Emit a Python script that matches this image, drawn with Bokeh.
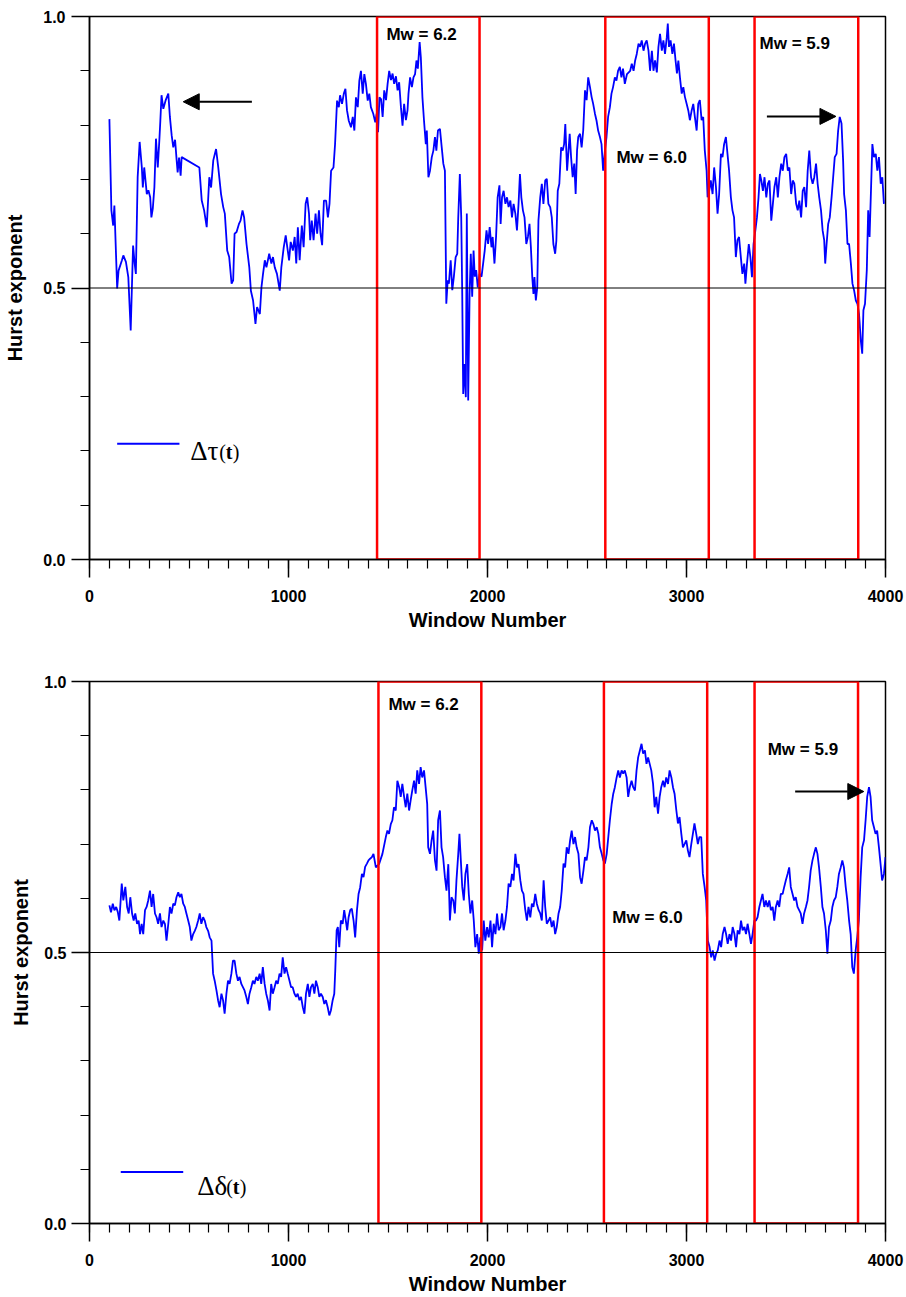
from bokeh.plotting import figure
from bokeh.layouts import column
from bokeh.models import (Range1d, FixedTicker, Span, Label, Arrow, NormalHead)
from bokeh.embed import file_html
from bokeh.resources import INLINE

# ---------------- data: Hurst exponent of Δτ(t) (top panel) ----------------
tau_window = [
    100, 110, 119, 125, 139, 146, 163, 170, 183, 195, 207, 219, 227, 233, 242, 252, 263, 268, 275, 288,
    296, 305, 311, 318, 326, 334, 343, 351, 356, 362, 371, 382, 396, 404, 413, 421, 430, 438, 443, 450,
    458, 463, 552, 564, 576, 589, 602, 611, 622, 636, 647, 661, 672, 680, 692, 702, 714, 722, 729, 739,
    751, 759, 769, 777, 789, 803, 811, 822, 834, 842, 856, 864, 872, 881, 889, 903, 914, 922, 931, 942,
    956, 964, 976, 986, 994, 1003, 1011, 1022, 1031, 1039, 1047, 1056, 1067, 1076, 1086, 1094, 1103, 1109, 1117, 1126,
    1136, 1144, 1153, 1161, 1169, 1178, 1189, 1198, 1206, 1214, 1226, 1234, 1244, 1253, 1259, 1269, 1278, 1286, 1294, 1303,
    1314, 1323, 1331, 1339, 1348, 1356, 1364, 1373, 1381, 1389, 1398, 1406, 1414, 1426, 1436, 1443, 1450,
    1457, 1465, 1473, 1481, 1490, 1498, 1506, 1515, 1523, 1531, 1540, 1548, 1556, 1565, 1573, 1581, 1590, 1598, 1603,
    1611, 1620, 1628, 1636, 1643, 1650, 1659, 1665, 1673, 1681, 1690, 1695, 1703, 1711, 1720, 1728, 1736, 1743, 1751,
    1761, 1770, 1778, 1786, 1793, 1800, 1806, 1815, 1823, 1831, 1840, 1848, 1853, 1861, 1868, 1873, 1878, 1885, 1891,
    1896, 1903, 1910, 1916, 1923, 1930, 1936, 1943, 1951, 1960, 1970, 1978, 1986, 1995, 2003, 2011, 2020, 2026, 2035,
    2043, 2051, 2060, 2066, 2073, 2081, 2090, 2098, 2106, 2115, 2123, 2131, 2140, 2148, 2156, 2163, 2170, 2178, 2186,
    2195, 2203, 2211, 2218, 2225, 2231, 2236, 2243, 2250, 2256, 2265, 2273, 2281, 2290, 2298, 2306, 2315, 2323, 2331,
    2340, 2346, 2353, 2361, 2370, 2378, 2385, 2391, 2400, 2406, 2413, 2420, 2428, 2436, 2443, 2450, 2456, 2465, 2473,
    2481, 2490, 2498, 2506, 2515, 2523, 2531, 2540, 2548, 2556, 2565, 2573, 2581, 2590, 2598, 2606, 2615, 2623, 2631,
    2640, 2648, 2656, 2665, 2673, 2681, 2690, 2701,
    2717, 2725, 2734, 2742, 2750, 2759, 2767, 2775, 2784, 2792, 2800, 2809, 2817, 2826, 2834, 2842, 2851, 2859, 2867,
    2876, 2884, 2892, 2901, 2906, 2912, 2920, 2929, 2937, 2945, 2952, 2959, 2967, 2976, 2984, 2992, 3001, 3009, 3017,
    3026, 3034, 3042, 3051, 3059, 3067, 3076, 3084, 3092, 3101, 3106, 3114, 3122, 3131, 3139, 3148, 3156, 3164, 3173,
    3181, 3189, 3198, 3206, 3214, 3223, 3231, 3239, 3248, 3256, 3264, 3273, 3281, 3290, 3296, 3304, 3313, 3321, 3329,
    3337, 3346, 3354, 3362, 3369, 3376, 3384, 3392, 3401, 3409, 3417, 3426, 3434, 3442, 3451, 3459, 3467, 3476, 3484,
    3492, 3501, 3509, 3517, 3526, 3534, 3542, 3551, 3559, 3567, 3576, 3584, 3592, 3601, 3609, 3617, 3626, 3634, 3642,
    3651, 3659, 3667, 3676, 3684, 3692, 3697, 3704, 3712, 3720, 3729, 3737, 3745, 3754, 3762, 3770, 3779, 3787, 3792,
    3801, 3809, 3817, 3826, 3834, 3842, 3851, 3859, 3867, 3876, 3883, 3889, 3897, 3906, 3913, 3920, 3926, 3934, 3942,
    3951, 3959, 3967, 3976, 3984, 3992,
]
tau_hurst = [
    0.811, 0.643, 0.615, 0.652, 0.499, 0.532, 0.551, 0.560, 0.548, 0.520, 0.422, 0.578, 0.545, 0.526, 0.704, 0.769, 0.722, 0.685, 0.722, 0.673,
    0.680, 0.667, 0.630, 0.646, 0.685, 0.775, 0.722, 0.772, 0.808, 0.855, 0.830, 0.845, 0.858, 0.815, 0.781, 0.759, 0.773, 0.735, 0.713, 0.740,
    0.707, 0.741, 0.722, 0.661, 0.643, 0.612, 0.704, 0.685, 0.735, 0.756, 0.722, 0.673, 0.649, 0.637, 0.569, 0.557, 0.508, 0.514, 0.600, 0.603,
    0.618, 0.624, 0.643, 0.630, 0.581, 0.538, 0.495, 0.477, 0.434, 0.465, 0.452, 0.501, 0.526, 0.551, 0.538, 0.563, 0.545, 0.557, 0.538, 0.526,
    0.495, 0.538, 0.575, 0.597, 0.575, 0.551, 0.585, 0.569, 0.594, 0.545, 0.612, 0.551, 0.615, 0.575, 0.655, 0.667, 0.637, 0.588, 0.624, 0.588,
    0.637, 0.600, 0.643, 0.600, 0.579, 0.661, 0.661, 0.630, 0.655, 0.716, 0.722, 0.765, 0.845, 0.833, 0.855, 0.839, 0.858, 0.867, 0.827, 0.808,
    0.796, 0.815, 0.790, 0.851, 0.833, 0.882, 0.900, 0.858, 0.894, 0.876, 0.845, 0.858, 0.833, 0.821, 0.805, 0.821, 0.787,
    0.851, 0.848, 0.815, 0.864, 0.846, 0.876, 0.900, 0.883, 0.895, 0.876, 0.890, 0.864, 0.879, 0.833, 0.799, 0.839, 0.809, 0.827, 0.858,
    0.888, 0.870, 0.888, 0.894, 0.919, 0.904, 0.953, 0.925, 0.851, 0.808, 0.765, 0.790, 0.704, 0.716, 0.741, 0.753, 0.778, 0.753, 0.790,
    0.793, 0.759, 0.729, 0.716, 0.471, 0.514, 0.508, 0.551, 0.496, 0.521, 0.557, 0.563, 0.630, 0.710, 0.630, 0.489, 0.305, 0.360, 0.299,
    0.637, 0.293, 0.489, 0.563, 0.484, 0.569, 0.521, 0.533, 0.501, 0.526, 0.521, 0.545, 0.569, 0.606, 0.581, 0.612, 0.575, 0.594, 0.545,
    0.594, 0.667, 0.689, 0.618, 0.667, 0.679, 0.655, 0.667, 0.649, 0.661, 0.630, 0.655, 0.637, 0.606, 0.655, 0.710, 0.667, 0.643, 0.630,
    0.581, 0.594, 0.618, 0.575, 0.520, 0.489, 0.520, 0.477, 0.501, 0.624, 0.667, 0.692, 0.655, 0.698, 0.701, 0.655, 0.649, 0.630, 0.581,
    0.563, 0.587, 0.679, 0.692, 0.759, 0.753, 0.765, 0.802, 0.716, 0.747, 0.784, 0.741, 0.704, 0.729, 0.673, 0.753, 0.778, 0.784, 0.759,
    0.790, 0.864, 0.846, 0.888, 0.870, 0.852, 0.839, 0.821, 0.808, 0.790, 0.778, 0.765, 0.716, 0.753, 0.778, 0.815, 0.833, 0.858, 0.870,
    0.888, 0.882, 0.900, 0.907, 0.888, 0.904, 0.876, 0.894,
    0.900, 0.913, 0.900, 0.919, 0.931, 0.950, 0.944, 0.956, 0.937, 0.950, 0.956, 0.937, 0.900, 0.937, 0.900, 0.919, 0.897, 0.944, 0.968,
    0.937, 0.956, 0.931, 0.962, 0.987, 0.944, 0.956, 0.931, 0.950, 0.919, 0.895, 0.919, 0.888, 0.858, 0.870, 0.852, 0.839, 0.827, 0.809,
    0.827, 0.839, 0.815, 0.790, 0.839, 0.846, 0.809, 0.815, 0.753, 0.716, 0.667, 0.679, 0.698, 0.673, 0.722, 0.686, 0.637, 0.673, 0.747,
    0.741, 0.765, 0.778, 0.747, 0.716, 0.667, 0.643, 0.630, 0.557, 0.588, 0.594, 0.557, 0.526, 0.545, 0.508, 0.545, 0.581, 0.557, 0.520,
    0.581, 0.606, 0.630, 0.667, 0.710, 0.698, 0.679, 0.704, 0.667, 0.692, 0.698, 0.624, 0.655, 0.686, 0.704, 0.667, 0.704, 0.729, 0.716,
    0.741, 0.747, 0.716, 0.722, 0.673, 0.698, 0.692, 0.655, 0.643, 0.661, 0.630, 0.679, 0.686, 0.649, 0.716, 0.753, 0.704, 0.692, 0.704,
    0.729, 0.692, 0.667, 0.643, 0.606, 0.588, 0.545, 0.581, 0.618, 0.630, 0.667, 0.704, 0.741, 0.747, 0.790, 0.815, 0.803, 0.735, 0.673,
    0.643, 0.581, 0.581, 0.545, 0.508, 0.496, 0.477, 0.471, 0.452, 0.403, 0.379, 0.459, 0.471, 0.533, 0.643, 0.594, 0.667, 0.765, 0.741,
    0.747, 0.716, 0.741, 0.692, 0.704, 0.655,
]

# ---------------- data: Hurst exponent of Δδ(t) (bottom panel) ----------------
delta_window = [
    100, 108, 117, 125, 134, 142, 150, 162, 170, 180, 189, 197, 205, 214, 222, 230, 239, 247, 254, 262,
    270, 279, 287, 295, 304, 312, 320, 329, 337, 345, 354, 362, 371, 379, 387, 396, 404, 412, 421, 429,
    437, 446, 454, 462, 471, 479, 487, 496, 504, 512, 521, 529, 537, 546, 554, 562, 571, 579, 587, 596,
    604, 613, 621, 629, 638, 646, 654, 663, 671, 679, 688, 696, 704, 713, 721, 729, 738, 746, 754, 763,
    771, 779, 788, 796, 804, 813, 821, 829, 838, 846, 855, 863, 871, 880, 888, 896, 905, 913, 921, 930,
    938, 946, 955, 963, 971, 980, 988, 996, 1005, 1013, 1021, 1030, 1038, 1046, 1055, 1063, 1072, 1080, 1088, 1097,
    1105, 1113, 1122, 1130, 1138, 1147, 1155, 1163, 1172, 1180, 1188, 1197, 1205, 1213, 1222, 1230, 1235, 1242, 1248, 1255,
    1263, 1272, 1280, 1288, 1295, 1302, 1310, 1318, 1327, 1335, 1344, 1352, 1360, 1369, 1377, 1385, 1394, 1402, 1410, 1419,
    1427, 1439, 1455, 1472, 1489, 1497, 1505, 1514, 1522, 1530, 1539, 1547, 1556, 1564, 1572, 1581, 1589, 1597, 1606,
    1614, 1622, 1631, 1639, 1647, 1656, 1664, 1672, 1681, 1689, 1697, 1702, 1711, 1719, 1727, 1736, 1744, 1752, 1761,
    1769, 1777, 1786, 1794, 1803, 1811, 1819, 1828, 1836, 1844, 1853, 1859, 1866, 1873, 1881, 1889, 1898, 1906, 1914,
    1923, 1931, 1939, 1948, 1956, 1964, 1973, 1981, 1989, 1998, 2006, 2015, 2023, 2031, 2040, 2048, 2056, 2065, 2073,
    2081, 2090, 2098, 2106, 2115, 2123, 2131, 2140, 2148, 2156, 2165, 2173, 2181, 2190, 2198, 2206, 2215, 2223, 2231,
    2240, 2248, 2257, 2265, 2273, 2282, 2290, 2298, 2307, 2315, 2323, 2332, 2340, 2348, 2357, 2365, 2373, 2382, 2390,
    2398, 2407, 2415, 2423, 2432, 2440, 2448, 2457, 2465, 2473, 2482, 2490, 2498, 2507, 2515, 2524, 2532, 2540, 2549,
    2557, 2565, 2574, 2582, 2590, 2599, 2607, 2615, 2624, 2632, 2640, 2649, 2657, 2665, 2674, 2682, 2690, 2699, 2707,
    2715, 2724, 2732, 2741, 2749, 2757, 2766, 2774, 2782, 2791, 2799, 2807,
    2815, 2823, 2832, 2840, 2848, 2857, 2865, 2873, 2882, 2890, 2898, 2907, 2915, 2924, 2932, 2940, 2949, 2957, 2965,
    2974, 2982, 2990, 2999, 3007, 3015, 3024, 3032, 3040, 3049, 3057, 3065, 3074, 3082, 3091, 3099, 3107, 3116, 3124,
    3132, 3141, 3149, 3157, 3166, 3174, 3182, 3191, 3199, 3207, 3216, 3224, 3232, 3241, 3249, 3257, 3266, 3274, 3282,
    3291, 3299, 3307, 3316, 3324, 3332, 3341, 3349, 3357, 3366, 3374, 3382, 3391, 3399, 3408, 3416, 3424, 3433, 3441,
    3449, 3458, 3466, 3474, 3483, 3491, 3499, 3508, 3516, 3524, 3533, 3541, 3549, 3558, 3566, 3574, 3583, 3591, 3600,
    3608, 3616, 3624, 3633, 3641, 3650, 3658, 3666, 3675, 3683, 3691, 3700, 3708, 3716, 3725, 3733, 3741, 3750, 3758,
    3766, 3775, 3783, 3791, 3800, 3808, 3817, 3825, 3833, 3841, 3850, 3858, 3866, 3875, 3883, 3892, 3900, 3908, 3917,
    3925, 3933, 3942, 3950, 3958, 3967, 3975, 3983, 3992, 4000,
]
delta_hurst = [
    0.587, 0.574, 0.590, 0.578, 0.584, 0.575, 0.559, 0.627, 0.596, 0.621, 0.584, 0.572, 0.602, 0.572, 0.559, 0.572, 0.553, 0.559, 0.534, 0.553,
    0.534, 0.578, 0.584, 0.596, 0.614, 0.584, 0.608, 0.572, 0.565, 0.553, 0.572, 0.547, 0.559, 0.553, 0.522, 0.553, 0.584, 0.572, 0.590, 0.587,
    0.602, 0.611, 0.602, 0.608, 0.590, 0.584, 0.572, 0.559, 0.547, 0.522, 0.534, 0.540, 0.547, 0.559, 0.572, 0.553, 0.565, 0.559, 0.547, 0.540,
    0.528, 0.522, 0.461, 0.448, 0.430, 0.412, 0.399, 0.424, 0.412, 0.387, 0.424, 0.448, 0.442, 0.461, 0.485, 0.485, 0.461, 0.448, 0.455, 0.442,
    0.436, 0.430, 0.418, 0.405, 0.424, 0.436, 0.448, 0.442, 0.455, 0.448, 0.461, 0.442, 0.473, 0.442, 0.424, 0.412, 0.393, 0.442, 0.424, 0.436,
    0.448, 0.442, 0.461, 0.455, 0.491, 0.461, 0.473, 0.461, 0.448, 0.436, 0.436, 0.424, 0.418, 0.424, 0.412, 0.418, 0.399, 0.387, 0.424, 0.442,
    0.418, 0.436, 0.442, 0.424, 0.448, 0.436, 0.418, 0.424, 0.418, 0.405, 0.412, 0.399, 0.384, 0.393, 0.412, 0.424, 0.467, 0.541, 0.547, 0.510,
    0.559, 0.553, 0.578, 0.559, 0.541, 0.565, 0.578, 0.581, 0.559, 0.528, 0.578, 0.608, 0.620, 0.645, 0.639, 0.658, 0.664, 0.670, 0.673, 0.676,
    0.682, 0.657, 0.663, 0.682, 0.713, 0.725, 0.719, 0.737, 0.744, 0.768, 0.762, 0.817, 0.805, 0.787, 0.811, 0.787, 0.768, 0.793, 0.762,
    0.781, 0.799, 0.817, 0.793, 0.836, 0.811, 0.842, 0.823, 0.836, 0.805, 0.774, 0.694, 0.682, 0.707, 0.725, 0.670, 0.651, 0.744, 0.762,
    0.694, 0.676, 0.639, 0.614, 0.663, 0.559, 0.602, 0.596, 0.572, 0.633, 0.682, 0.719, 0.670, 0.621, 0.596, 0.645, 0.663, 0.608, 0.572,
    0.596, 0.559, 0.510, 0.534, 0.498, 0.528, 0.504, 0.559, 0.522, 0.547, 0.528, 0.559, 0.510, 0.553, 0.534, 0.572, 0.541, 0.547, 0.572,
    0.541, 0.559, 0.584, 0.627, 0.621, 0.645, 0.633, 0.682, 0.657, 0.663, 0.633, 0.614, 0.608, 0.578, 0.559, 0.584, 0.565, 0.590, 0.584,
    0.608, 0.590, 0.578, 0.572, 0.559, 0.633, 0.584, 0.553, 0.559, 0.565, 0.547, 0.559, 0.534, 0.547, 0.572, 0.584, 0.614, 0.664, 0.657,
    0.694, 0.682, 0.707, 0.725, 0.700, 0.713, 0.694, 0.682, 0.639, 0.627, 0.651, 0.676, 0.670, 0.694, 0.731, 0.744, 0.737, 0.725, 0.731,
    0.719, 0.694, 0.682, 0.670, 0.664, 0.682, 0.713, 0.744, 0.774, 0.793, 0.805, 0.823, 0.836, 0.823, 0.836, 0.830, 0.836, 0.823, 0.787,
    0.805, 0.817, 0.805, 0.799, 0.836, 0.860, 0.873, 0.885, 0.867, 0.873, 0.848, 0.860,
    0.848, 0.836, 0.811, 0.768, 0.787, 0.756, 0.787, 0.805, 0.817, 0.805, 0.823, 0.811, 0.836, 0.823, 0.805, 0.793, 0.762, 0.738, 0.750,
    0.719, 0.694, 0.700, 0.707, 0.688, 0.676, 0.700, 0.719, 0.738, 0.719, 0.700, 0.713, 0.713, 0.645, 0.621, 0.596, 0.522, 0.510, 0.491,
    0.504, 0.485, 0.498, 0.504, 0.522, 0.510, 0.534, 0.547, 0.534, 0.516, 0.534, 0.522, 0.547, 0.534, 0.510, 0.541, 0.534, 0.559, 0.541,
    0.547, 0.534, 0.553, 0.534, 0.516, 0.534, 0.559, 0.559, 0.565, 0.584, 0.596, 0.608, 0.584, 0.596, 0.584, 0.596, 0.578, 0.584, 0.559,
    0.584, 0.596, 0.584, 0.608, 0.608, 0.621, 0.633, 0.645, 0.657, 0.621, 0.608, 0.596, 0.602, 0.584, 0.578, 0.572, 0.553, 0.572, 0.584,
    0.596, 0.621, 0.651, 0.670, 0.682, 0.694, 0.682, 0.657, 0.621, 0.584, 0.572, 0.541, 0.498, 0.547, 0.559, 0.584, 0.596, 0.602, 0.621,
    0.645, 0.657, 0.670, 0.657, 0.621, 0.596, 0.559, 0.534, 0.473, 0.461, 0.504, 0.528, 0.559, 0.639, 0.694, 0.707, 0.744, 0.787, 0.805,
    0.787, 0.744, 0.731, 0.719, 0.725, 0.694, 0.664, 0.633, 0.645, 0.676,
]

# earthquake windows (red boxes) and their magnitudes
quake_labels = ["Mw = 6.2", "Mw = 6.0", "Mw = 5.9"]
tau_box_start = [1445, 2592, 3342]
tau_box_end = [1960, 3112, 3863]
delta_box_start = [1452, 2585, 3342]
delta_box_end = [1969, 3104, 3862]

x_ticks = [0, 1000, 2000, 3000, 4000]
y_ticks = [0.0, 0.5, 1.0]

FONT = "Liberation Sans"
SERIF = "Liberation Serif"


def make_panel(xs, ys, b_start, b_end, height, border_top, border_bottom, border_left,
               border_right, ylabel_standoff, ytick_standoff):
    p = figure(width=906, height=height, output_backend="svg", toolbar_location=None,
               x_range=Range1d(0, 4000), y_range=Range1d(0, 1.0),
               min_border_top=border_top, min_border_bottom=border_bottom,
               min_border_left=border_left, min_border_right=border_right)
    p.xgrid.visible = False
    p.ygrid.visible = False
    p.outline_line_color = "black"
    p.outline_line_width = 1.5
    p.background_fill_color = "white"
    p.border_fill_color = "white"

    p.xaxis.ticker = FixedTicker(ticks=x_ticks, minor_ticks=list(range(0, 4001, 100)))
    p.yaxis.ticker = FixedTicker(ticks=y_ticks, minor_ticks=[i / 10 for i in range(11)])
    p.yaxis.major_label_overrides = {0.0: "0.0", 0.5: "0.5", 1.0: "1.0"}
    for ax in (p.xaxis[0], p.yaxis[0]):
        ax.axis_line_width = 1.5
        ax.major_tick_line_width = 1.5
        ax.minor_tick_line_width = 1.2
        ax.major_tick_in = 0
        ax.minor_tick_in = 0
        ax.major_tick_out = 18
        ax.minor_tick_out = 9
        ax.major_label_text_font = FONT
        ax.major_label_text_font_style = "bold"
        ax.major_label_text_font_size = "16px"
        ax.major_label_text_color = "black"
        ax.axis_label_text_font = FONT
        ax.axis_label_text_font_style = "bold"
        ax.axis_label_text_font_size = "20px"
        ax.axis_label_text_color = "black"
    p.xaxis.axis_label = "Window Number"
    p.yaxis.axis_label = "Hurst exponent"
    p.xaxis.major_label_standoff = 12
    p.yaxis.major_label_standoff = ytick_standoff
    p.xaxis.axis_label_standoff = 4
    p.yaxis.axis_label_standoff = ylabel_standoff

    p.add_layout(Span(location=0.5, dimension="width", line_color="black", line_width=1))
    p.line(xs, ys, line_color="#0000ff", line_width=1.8)
    p.quad(left=b_start, right=b_end, bottom=[0, 0, 0], top=[1, 1, 1],
           fill_color=None, line_color="#ff0000", line_width=2.5)
    return p


def add_legend_text(p, x, y, symbol):
    p.add_layout(Label(x=x, y=y, text=symbol, text_font=SERIF, text_font_size="27px",
                       text_color="black", text_baseline="alphabetic"))
    p.add_layout(Label(x=x, y=y, x_offset=29, y_offset=-1, text="(", text_font=SERIF,
                       text_font_size="20px", text_color="black", text_baseline="alphabetic"))
    p.add_layout(Label(x=x, y=y, x_offset=35.5, y_offset=-1, text="t", text_font=SERIF,
                       text_font_style="bold", text_font_size="20px", text_color="black",
                       text_baseline="alphabetic"))
    p.add_layout(Label(x=x, y=y, x_offset=42.5, y_offset=-1, text=")", text_font=SERIF,
                       text_font_size="20px", text_color="black", text_baseline="alphabetic"))


def add_quake_labels(p, positions):
    for txt, (lx, ly) in zip(quake_labels, positions):
        p.add_layout(Label(x=lx, y=ly, text=txt, text_font=FONT, text_font_style="bold",
                           text_font_size="17px", text_color="black",
                           text_baseline="middle", text_align="left"))


# ---------------- top panel ----------------
p1 = make_panel(tau_window, tau_hurst, tau_box_start, tau_box_end,
                height=640, border_top=16, border_bottom=81, border_left=89, border_right=18,
                ylabel_standoff=14, ytick_standoff=6)
add_quake_labels(p1, [(1492, 0.967), (2648, 0.740), (3367, 0.950)])
p1.add_layout(Arrow(end=NormalHead(size=16, fill_color="black", line_color="black"),
                    x_start=816, y_start=0.843, x_end=471, y_end=0.843, line_width=2))
p1.add_layout(Arrow(end=NormalHead(size=16, fill_color="black", line_color="black"),
                    x_start=3404, y_start=0.816, x_end=3751, y_end=0.816, line_width=2))
p1.line([139, 452], [0.213, 0.213], line_color="#0000ff", line_width=2)
add_legend_text(p1, 506, 0.199, "Δτ")

# ---------------- bottom panel ----------------
p2 = make_panel(delta_window, delta_hurst, delta_box_start, delta_box_end,
                height=657, border_top=41, border_bottom=74, border_left=86, border_right=21,
                ylabel_standoff=9, ytick_standoff=5)
add_quake_labels(p2, [(1502, 0.958), (2627, 0.565), (3408, 0.875)])
p2.add_layout(Arrow(end=NormalHead(size=16, fill_color="black", line_color="black"),
                    x_start=3546, y_start=0.797, x_end=3891, y_end=0.797, line_width=2))
p2.line([157, 471], [0.095, 0.095], line_color="#0000ff", line_width=2)
add_legend_text(p2, 541, 0.069, "Δδ")

layout = column(p1, p2, spacing=0)
open("out.html", "w").write(file_html(layout, INLINE))
